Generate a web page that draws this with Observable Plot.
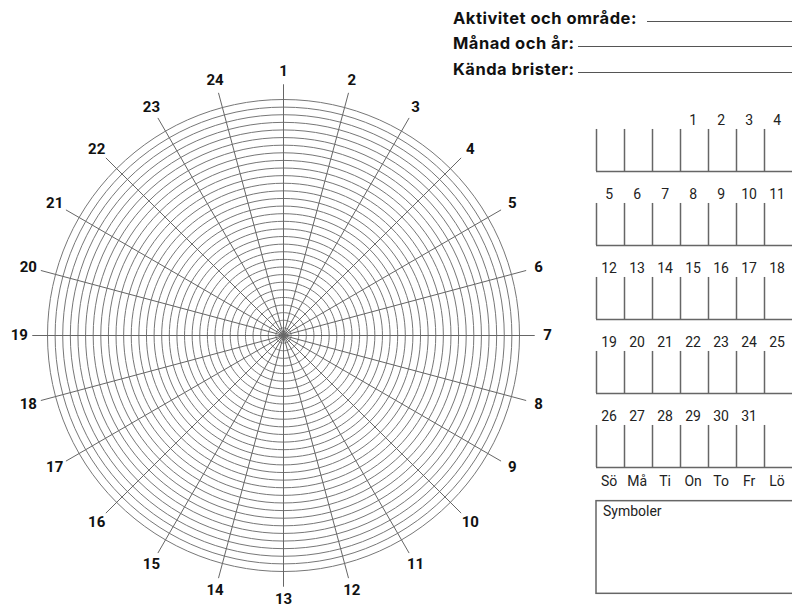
<!DOCTYPE html>
<html>
<head>
<meta charset="utf-8">
<script src="https://cdn.jsdelivr.net/npm/d3@7"></script>
<script src="https://cdn.jsdelivr.net/npm/@observablehq/plot@0.6"></script>
<style>
  body { margin: 0; background: #fff; }
  #page { position: relative; width: 792px; height: 608px; overflow: hidden; font-family: Roboto, "Liberation Sans", sans-serif; }
  #polar { position: absolute; left: 0; top: 0; }
  #cal { position: absolute; left: 580px; top: 90px; }
  .flabel { position: absolute; left: 453px; font-family: Inter, Roboto, sans-serif; font-weight: 700; font-size: 16.5px; letter-spacing: 0.5px; line-height: 18px; color: #111; white-space: nowrap; }
  .fline { position: absolute; right: 0; border-top: 1.5px solid #555; height: 0; }
</style>
</head>
<body>
<div id="page">
  <div id="polar"></div>
  <div id="cal"></div>
</div>
<script>
// ---- data ----
const hourLabels = [1, 2, 3, 4, 5, 6, 7, 8, 9, 10, 11, 12, 13, 14, 15, 16, 17, 18, 19, 20, 21, 22, 23, 24];
const dayRings = [1, 2, 3, 4, 5, 6, 7, 8, 9, 10, 11, 12, 13, 14, 15, 16, 17, 18, 19, 20, 21, 22, 23, 24, 25, 26, 27, 28, 29, 30, 31];
const fieldLabels = ["Aktivitet och område:", "Månad och år:", "Kända brister:"];
const weekdays = ["Sö", "Må", "Ti", "On", "To", "Fr", "Lö"];
const monthDays = [1, 2, 3, 4, 5, 6, 7, 8, 9, 10, 11, 12, 13, 14, 15, 16, 17, 18, 19, 20, 21, 22, 23, 24, 25, 26, 27, 28, 29, 30, 31];
const firstWeekdayIndex = 3; // month starts on "On"
const weeks = [0, 1, 2, 3, 4];
const symbolsTitle = ["Symboler"];

// ---- form fields ----
const page = document.getElementById("page");
const fieldTops = [9, 34, 60];
const lineStarts = [647, 578, 578];
const lineYs = [21, 46, 72];
fieldLabels.forEach((t, i) => {
  const s = document.createElement("div");
  s.className = "flabel";
  s.style.top = fieldTops[i] + "px";
  s.textContent = t;
  page.appendChild(s);
  const l = document.createElement("div");
  l.className = "fline";
  l.style.left = lineStarts[i] + "px";
  l.style.top = lineYs[i] + "px";
  page.appendChild(l);
});

// ---- polar grid ----
const CX = 283, CY = 335, W = 570, H = 608;
const UNIT = 236 / dayRings.length;
const spokeLen = 33, labelR = 34.7;
const ang = h => (h - 1) * Math.PI / 12;
const ringPts = dayRings.flatMap(d => d3.range(0, 361, 3).map(a => ({
  d, x: d * Math.sin(a * Math.PI / 180), y: d * Math.cos(a * Math.PI / 180)
})));

const polar = Plot.plot({
  width: W, height: H, margin: 0,
  style: { fontFamily: "Roboto, sans-serif", background: "transparent" },
  x: { axis: null, domain: [-CX / UNIT, (W - CX) / UNIT], range: [0, W] },
  y: { axis: null, domain: [-(H - CY) / UNIT, CY / UNIT], range: [H, 0] },
  marks: [
    Plot.line(ringPts, { x: "x", y: "y", z: "d", stroke: "#777", strokeWidth: 1, curve: "linear-closed" }),
    Plot.link(hourLabels, {
      x1: 0, y1: 0,
      x2: h => spokeLen * Math.sin(ang(h)),
      y2: h => spokeLen * Math.cos(ang(h)),
      stroke: "#666", strokeWidth: 1
    }),
    Plot.text(hourLabels, {
      x: h => labelR * Math.sin(ang(h)),
      y: h => labelR * Math.cos(ang(h)),
      text: h => String(h),
      fontSize: 15, fontWeight: 700, fill: "#111"
    })
  ]
});
document.getElementById("polar").appendChild(polar);

// ---- calendar ----
const cells = weeks.flatMap(r => weekdays.map((w, c) => ({ r, c })));
const dayPos = monthDays.map(d => ({
  d,
  c: (d - 1 + firstWeekdayIndex) % 7,
  r: Math.floor((d - 1 + firstWeekdayIndex) / 7)
}));
const cal = Plot.plot({
  width: 212, height: 518, margin: 0,
  style: { fontFamily: "Roboto, sans-serif", background: "transparent" },
  x: { axis: null, domain: [0, 7], range: [16, 212] },
  y: { axis: null, domain: [0, 1], range: [81, 155] },
  marks: [
    Plot.ruleX(cells, { x: "c", y1: d => d.r - 0.568, y2: "r", stroke: "#666", strokeWidth: 1.5 }),
    Plot.ruleY(weeks, { y: d => d, x1: 0, x2: 7, stroke: "#666", strokeWidth: 1.5 }),
    Plot.text(dayPos, { x: d => d.c + 0.45, y: d => d.r - 0.69, text: d => String(d.d), fontSize: 14, fill: "#222" }),
    Plot.text(weekdays, { x: (d, i) => i + 0.45, y: () => 4.19, text: d => d, fontSize: 14, fill: "#222" }),
    Plot.rect(symbolsTitle, { x1: 0, x2: 7.5, y1: 4.455, y2: 5.707, stroke: "#666", fill: "none", strokeWidth: 1.5 }),
    Plot.text(symbolsTitle, { x: 0.23, y: 4.6, text: d => d, textAnchor: "start", fontSize: 14, fill: "#222" })
  ]
});
document.getElementById("cal").appendChild(cal);
</script>
</body>
</html>
